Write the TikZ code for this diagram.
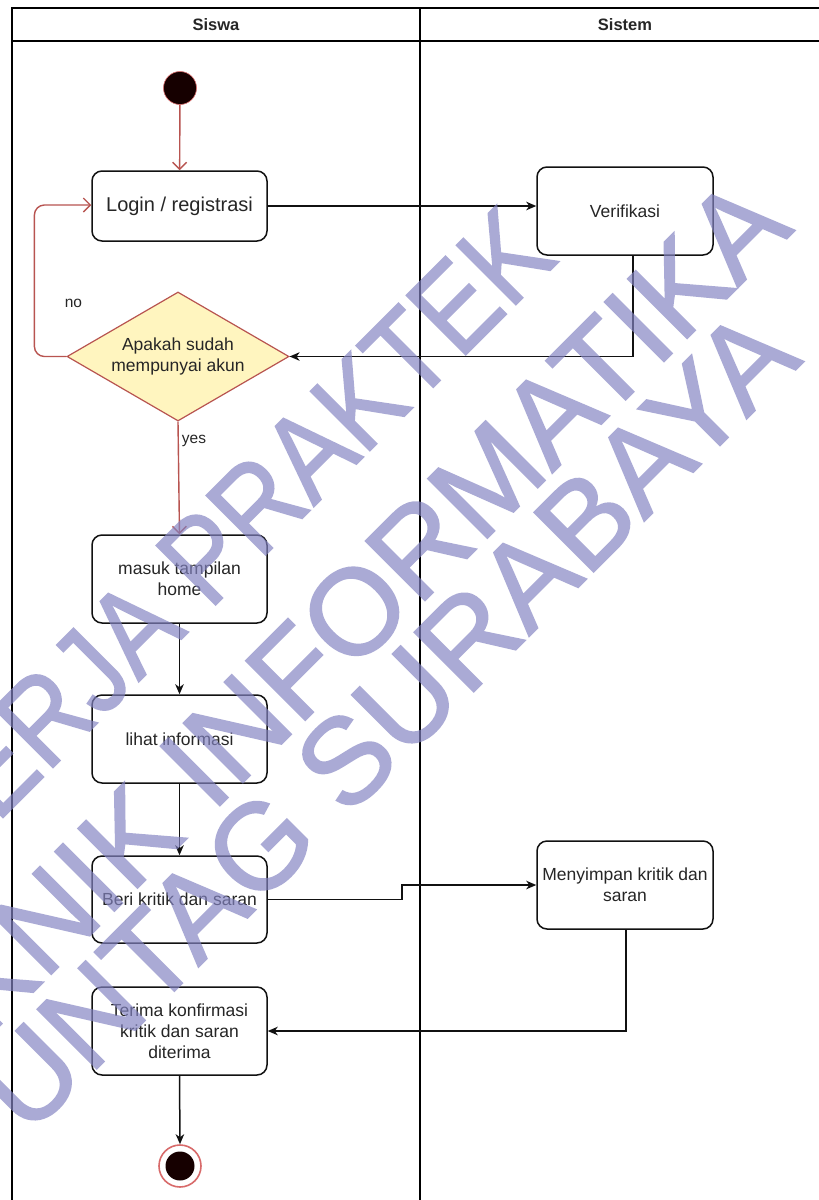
\documentclass[tikz,border=0pt]{standalone}
\usepackage{fontspec}
\setmainfont{Liberation Sans}
\newfontfamily\stampfont[FakeBold=1.4]{Liberation Sans}
\usetikzlibrary{shapes.geometric,arrows.meta,calc}

\definecolor{ink}{HTML}{262626}
\definecolor{edge}{HTML}{111111}
\definecolor{flowred}{HTML}{B85450}
\definecolor{ringred}{HTML}{D86A6A}
\definecolor{decfill}{HTML}{FFF5BF}
\definecolor{dot}{HTML}{160000}
\definecolor{stamp}{HTML}{8383C2}

\begin{document}
\begin{tikzpicture}[x=1pt,y=-1pt,
  body/.style={font=\fontsize{17.5}{21}\selectfont},
  act/.style={body, draw=edge, line width=1.5pt, rounded corners=10pt,
    minimum width=175pt, minimum height=88pt, align=center, text=ink, inner sep=2pt},
  dec/.style={body, diamond, aspect=1.72, draw=flowred, fill=decfill, line width=1.2pt,
    minimum width=222pt, minimum height=129pt, inner sep=0pt, align=center, text=ink},
  lane/.style={draw=black, line width=1.6pt},
  flow/.style={draw=edge, line width=1.5pt, -{Stealth[length=10pt,width=8.5pt,inset=3pt]}},
  redflow/.style={draw=flowred, line width=1.4pt, -{Straight Barb[length=7pt,width=14pt,line width=1.4pt]}},
  edgelabel/.style={font=\fontsize{15.5}{18}\selectfont, text=ink, inner sep=0pt},
  header/.style={font=\fontsize{16.5}{19}\selectfont\bfseries, text=ink},
  stampline/.style={rotate=45, text=stamp, inner sep=0pt,
    font=\stampfont\fontsize{122}{122}\selectfont}
]
\useasboundingbox (0,0) rectangle (819,1200);
\fill[white] (0,0) rectangle (819,1200);

% swimlane pool
\draw[lane] (12,1215) -- (12,8) -- (835,8);
\draw[lane] (12,41) -- (835,41);
\draw[lane] (420,8) -- (420,1215);
\node[header] (hsiswa) at (216,25) {Siswa};
\node[header] (hsistem) at (625,25) {Sistem};

% activity nodes
\node[circle, fill=dot, draw=ringred, line width=0.6pt, minimum size=33pt, inner sep=0pt] (start) at (180,88) {};
\node[act, minimum height=70pt, font=\fontsize{20}{24}\selectfont] (login) at (179.5,206) {Login / registrasi};
\node[act, minimum width=176pt] (verif) at (625,211) {Verifikasi};
\node[dec] (cek) at (178,356.5) {Apakah sudah\\mempunyai akun};
\node[act] (home) at (179.5,579) {masuk tampilan\\home};
\node[act] (info) at (179.5,739) {lihat informasi};
\node[act, minimum height=87pt] (beri) at (179.5,899.5) {Beri kritik dan saran};
\node[act] (terima) at (179.5,1031) {Terima konfirmasi\\kritik dan saran\\diterima};
\node[act, minimum width=176pt] (simpan) at (625,885) {Menyimpan kritik dan\\saran};
\node[circle, fill=white, draw=ringred, line width=1.6pt, minimum size=42pt, inner sep=0pt] (stop) at (180,1166) {};
\node[circle, fill=dot, minimum size=29pt, inner sep=0pt] (stopdot) at (stop.center) {};

% connectors
\draw[redflow] (start) -- (login);
\draw[flow] (login.east) -- (login.east -| verif.west);
\draw[flow] ([xshift=8pt]verif.south) |- (cek.east);
\draw[redflow, rounded corners=10pt] (cek.west) -- ++(-32,0) |- ([yshift=1pt]login.west);
\node[edgelabel] (lblno) at (73.5,303) {no};
\draw[redflow] (cek.south) -- (home.north);
\node[edgelabel] (lblyes) at (194,441) {yes};
\draw[flow] (home) -- (info);
\draw[flow] (info) -- (beri);
\coordinate (bend) at (402,899.5);
\draw[flow] (beri.east) -- (bend) |- (simpan.west);
\draw[flow] ([xshift=1pt]simpan.south) |- (terima.east);
\draw[flow] (terima.south) -- (stop.north);

% diagonal stamp laid over the sheet, see-through
\begin{scope}[transparency group, opacity=0.68]
  \node[stampline, xscale=0.87] (stampa) at (224,538) {KERJA PRAKTEK};
  \node[stampline] (stampb) at (306,660) {TEKNIK INFORMATIKA};
  \node[stampline] (stampc) at (386,720) {UNTAG SURABAYA};
\end{scope}
\end{tikzpicture}
\end{document}
